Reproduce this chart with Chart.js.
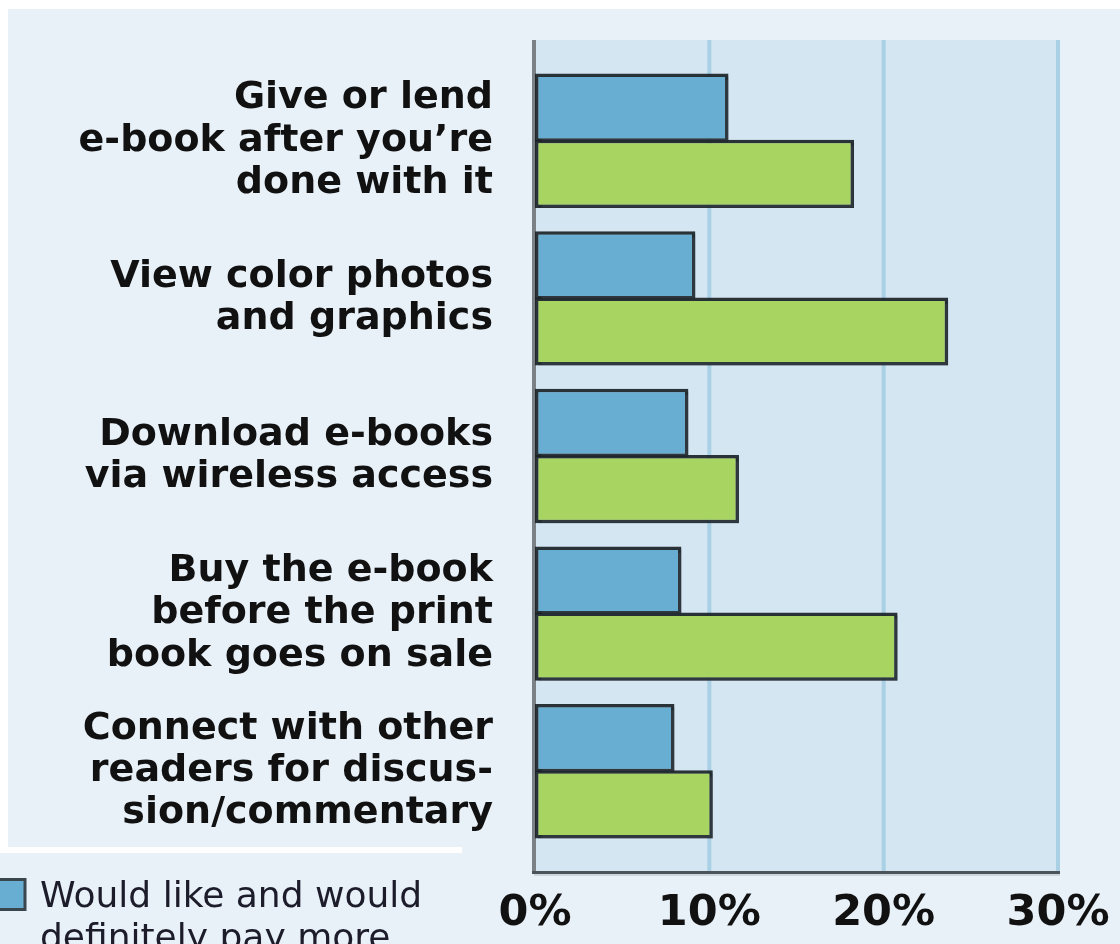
<!DOCTYPE html>
<html>
<head>
<meta charset="utf-8">
<script src="https://cdn.jsdelivr.net/npm/chart.js@4.4.0/dist/chart.umd.min.js"></script>
<style>
  html, body { margin: 0; padding: 0; background: #fff; overflow: hidden; }
  canvas { display: block; }
</style>
</head>
<body>
<canvas id="chart" width="1120" height="944"></canvas>
<script>
const features = [
  ["Give or lend", "e-book after you\u2019re", "done with it"],
  ["View color photos", "and graphics"],
  ["Download e-books", "via wireless access"],
  ["Buy the e-book", "before the print", "book goes on sale"],
  ["Connect with other", "readers for discus-", "sion/commentary"],
];
const payMore = [11.1, 9.2, 8.8, 8.4, 8.0];
const wouldLike = [18.3, 23.7, 11.7, 20.8, 10.2];
const xTicks = [0, 10, 20, 30];
const legendLines = ["Would like and would", "definitely pay more"];

const PANEL = "#e8f0f8";
const PLOT_BG = "#d4e6f2";
const GRID = "#a9d0e4";
const BLUE = "#68aed2";
const GREEN = "#a8d562";
const EDGE = "rgba(22, 30, 34, 0.9)";

// white frame, light panel, plot box and vertical gridlines
const backdrop = {
  id: "backdrop",
  beforeDraw(chart) {
    const { ctx, chartArea: a, scales: { x } } = chart;
    const w = chart.width, h = chart.height;
    const top = a.top - 22, bottom = a.bottom + 22;
    ctx.save();
    ctx.fillStyle = "#fff";
    ctx.fillRect(0, 0, w, h);
    ctx.fillStyle = PANEL;
    ctx.fillRect(8, 9, w - 8, 838);
    ctx.fillRect(462, 847, w - 462, 6);
    ctx.fillRect(0, 853, w, h - 853);

    ctx.fillStyle = PLOT_BG;
    ctx.fillRect(a.left - 2, top, a.right - a.left + 4, bottom - top);

    ctx.fillStyle = GRID;
    xTicks.slice(1).forEach(v => {
      const px = x.getPixelForValue(v);
      ctx.fillRect(px - 2, top, 4, bottom - top);
    });

    // axis lines
    ctx.fillStyle = "#7a8288";
    ctx.fillRect(a.left - 3, top, 4, bottom - top + 2);
    ctx.fillStyle = "#4c535a";
    ctx.fillRect(a.left - 3, bottom - 1, a.right - a.left + 5, 3);
    ctx.fillStyle = "rgba(120,130,140,0.25)";
    ctx.fillRect(a.left - 1, bottom + 2, a.right - a.left + 3, 2);
    ctx.restore();
  },
};

// soft drop shadow under the bars
const barShadow = {
  id: "barShadow",
  beforeDatasetsDraw(chart) {
    const ctx = chart.ctx;
    ctx.save();
    ctx.shadowColor = "rgba(60, 70, 80, 0.35)";
    ctx.shadowOffsetX = 3;
    ctx.shadowOffsetY = 3;
    ctx.shadowBlur = 0;
  },
  afterDatasetsDraw(chart) {
    chart.ctx.restore();
  },
};

// legend block in the lower left, partly running off the bottom
const cornerLegend = {
  id: "cornerLegend",
  afterDraw(chart) {
    const ctx = chart.ctx;
    ctx.save();
    ctx.fillStyle = BLUE;
    ctx.fillRect(0, 878, 26, 32);
    ctx.strokeStyle = "#3a464e";
    ctx.lineWidth = 3;
    ctx.strokeRect(-2, 879.5, 27, 30);
    ctx.fillStyle = "#1c1c2a";
    ctx.font = "36px 'DejaVu Sans'";
    ctx.textBaseline = "alphabetic";
    legendLines.forEach((t, i) => ctx.fillText(t, 40, 907 + i * 42));
    ctx.restore();
  },
};

new Chart(document.getElementById("chart"), {
  type: "bar",
  data: {
    labels: features,
    datasets: [
      {
        label: legendLines.join(" "),
        data: payMore,
        backgroundColor: BLUE,
        borderColor: EDGE,
        borderWidth: 3.5,
        borderSkipped: false,
        categoryPercentage: 0.84,
        barPercentage: 1.03,
      },
      {
        label: "Would like but would not pay more",
        data: wouldLike,
        backgroundColor: GREEN,
        borderColor: EDGE,
        borderWidth: 3.5,
        borderSkipped: false,
        categoryPercentage: 0.84,
        barPercentage: 1.03,
      },
    ],
  },
  options: {
    indexAxis: "y",
    responsive: false,
    animation: false,
    events: [],
    layout: { padding: { top: 62, right: 62, left: 0, bottom: 0 } },
    plugins: {
      legend: { display: false },
      tooltip: { enabled: false },
    },
    scales: {
      x: {
        type: "linear",
        min: 0,
        max: 30,
        afterBuildTicks(s) {
          s.ticks = xTicks.map(v => ({ value: v }));
        },
        afterFit(s) {
          s.height = 94;
          s.paddingLeft = 0;
          s.paddingRight = 0;
        },
        grid: { display: false, drawTicks: false },
        border: { display: false },
        ticks: {
          callback: v => v + "%",
          color: "#111",
          font: { family: "DejaVu Sans", weight: "bold", size: 43 },
          padding: 38,
          maxRotation: 0,
        },
      },
      y: {
        type: "category",
        afterFit(s) {
          s.width = 535;
          s.paddingTop = 0;
          s.paddingBottom = 0;
        },
        grid: { display: false, drawTicks: false },
        border: { display: false },
        ticks: {
          color: "#111",
          font: { family: "DejaVu Sans", weight: "bold", size: 38, lineHeight: 1.11 },
          padding: 42,
          autoSkip: false,
        },
      },
    },
  },
  plugins: [backdrop, barShadow, cornerLegend],
});
</script>
</body>
</html>
